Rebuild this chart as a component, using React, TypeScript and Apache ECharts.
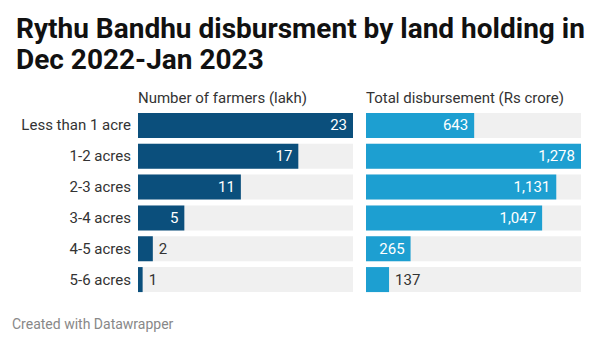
import React, { useEffect, useRef } from "react";
import * as echarts from "echarts";

const categories = ["Less than 1 acre", "1-2 acres", "2-3 acres", "3-4 acres", "4-5 acres", "5-6 acres"];
const farmers = [23.2, 17.3, 11.1, 5.0, 1.6, 0.5];
const disbursement = [643, 1278, 1131, 1047, 265, 137];
const farmersInside = [true, true, true, true, false, false];
const disbInside = [true, true, true, true, true, false];

const FONT = "Roboto, 'Noto Sans', sans-serif";
const DARK = "#0b4f7c";
const LIGHT = "#1d9fd1";

function mkData(values: number[], inside: boolean[], fmt: (v: number) => string) {
  return values.map((v, i) => ({
    value: v,
    label: inside[i]
      ? { show: true, position: "insideRight", distance: 6, color: "#fff", formatter: () => fmt(v) }
      : { show: true, position: "right", distance: 6, color: "#333", formatter: () => fmt(v) },
  }));
}

export default function App() {
  const ref = useRef<HTMLDivElement>(null);
  useEffect(() => {
    if (!ref.current) return;
    const chart = echarts.init(ref.current, null, { renderer: "svg" });
    const gridTop = 110;
    const gridH = 185;
    chart.setOption({
      animation: false,
      backgroundColor: "#fff",
      textStyle: { fontFamily: FONT },
      title: {
        text: "Rythu Bandhu disbursment by land holding in\nDec 2022-Jan 2023",
        left: 11,
        top: 8,
        textStyle: { fontFamily: FONT, fontSize: 28, fontWeight: "bold", color: "#111", lineHeight: 31 },
      },
      graphic: [
        { type: "text", left: 138, top: 90, style: { text: "Number of farmers (lakh)", font: `15px ${FONT}`, fill: "#333" } },
        { type: "text", left: 366, top: 90, style: { text: "Total disbursement (Rs crore)", font: `15px ${FONT}`, fill: "#333" } },
        { type: "text", left: 12, top: 317, style: { text: "Created with Datawrapper", font: `14px ${FONT}`, fill: "#888" } },
      ],
      grid: [
        { left: 138, width: 215, top: gridTop, height: gridH },
        { left: 366, width: 215, top: gridTop, height: gridH },
      ],
      xAxis: [
        { type: "value", gridIndex: 0, min: 0, max: 23.2, show: false },
        { type: "value", gridIndex: 1, min: 0, max: 1278, show: false },
      ],
      yAxis: [
        {
          type: "category", gridIndex: 0, data: categories, inverse: true,
          axisLine: { show: false }, axisTick: { show: false },
          axisLabel: { margin: 7, fontSize: 15, color: "#333", fontFamily: FONT },
        },
        {
          type: "category", gridIndex: 1, data: categories, inverse: true,
          axisLine: { show: false }, axisTick: { show: false }, axisLabel: { show: false },
        },
      ],
      series: [
        {
          type: "bar", xAxisIndex: 0, yAxisIndex: 0, barWidth: 25,
          data: mkData(farmers, farmersInside, (v) => String(Math.round(v))),
          itemStyle: { color: DARK },
          showBackground: true, backgroundStyle: { color: "#f0f0f0" },
          label: { fontSize: 15, fontFamily: FONT },
        },
        {
          type: "bar", xAxisIndex: 1, yAxisIndex: 1, barWidth: 25,
          data: mkData(disbursement, disbInside, (v) => v.toLocaleString("en-US")),
          itemStyle: { color: LIGHT },
          showBackground: true, backgroundStyle: { color: "#f0f0f0" },
          label: { fontSize: 15, fontFamily: FONT },
        },
      ],
    });
    return () => chart.dispose();
  }, []);
  return <div ref={ref} style={{ width: 600, height: 347, position: "absolute", left: 0, top: 0 }} />;
}
